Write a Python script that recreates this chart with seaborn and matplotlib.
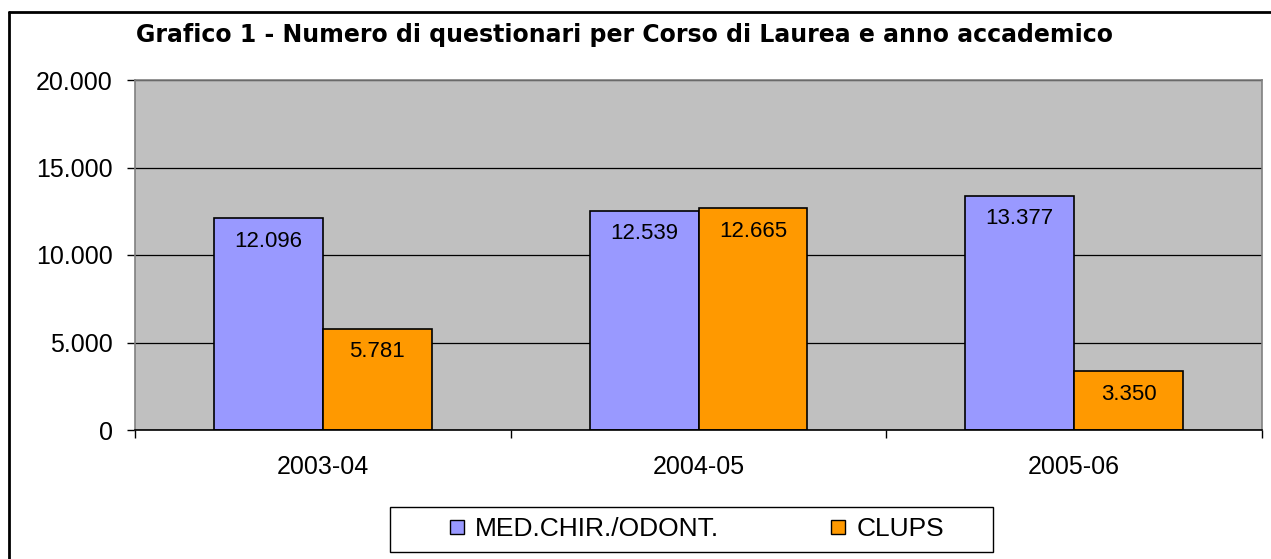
import matplotlib
matplotlib.use("Agg")
import matplotlib.pyplot as plt
from matplotlib.lines import Line2D
from matplotlib.patches import Rectangle
import seaborn as sns
import pandas as pd

years = ["2003-04", "2004-05", "2005-06"]
series = ["MED.CHIR./ODONT.", "CLUPS"]
med_values = [12096, 12539, 13377]
clups_values = [5781, 12665, 3350]
colors = ["#9999FF", "#FF9900"]
title = "Grafico 1 - Numero di questionari per Corso di Laurea e anno accademico"

def fmt(v):
    return f"{v:,}".replace(",", ".")

df = pd.DataFrame({
    "year": years * 2,
    "series": [series[0]] * 3 + [series[1]] * 3,
    "value": med_values + clups_values,
})

sns.set_style("white")
plt.rcParams["font.family"] = ["Liberation Sans", "DejaVu Sans"]
plt.rcParams["text.color"] = "black"
plt.rcParams["xtick.color"] = "black"
plt.rcParams["ytick.color"] = "black"
plt.rcParams["xtick.labelcolor"] = "black"
plt.rcParams["ytick.labelcolor"] = "black"

fig = plt.figure(figsize=(12.71, 5.59), dpi=100)
ax = fig.add_axes([135 / 1271, 1 - 430 / 559, (1262 - 135) / 1271, (430 - 80) / 559])
ax.set_facecolor("#C0C0C0")

sns.barplot(data=df, x="year", y="value", hue="series", palette=colors,
            width=0.58, edgecolor="black", linewidth=1.2, saturation=1,
            ax=ax, legend=False, order=years, hue_order=series)

vals = [med_values, clups_values]
for cont, vs in zip(ax.containers, vals):
    for p, v in zip(cont.patches, vs):
        ax.annotate(fmt(v), xy=(p.get_x() + p.get_width() / 2, p.get_height()),
                    xytext=(0, -16.5), textcoords="offset points",
                    ha="center", va="center", fontsize=16, color="black")

ax.set_ylim(0, 20000)
ax.set_xlim(-0.5, 2.5)
yt = [0, 5000, 10000, 15000, 20000]
ax.set_yticks(yt)
ax.set_yticklabels([fmt(v) for v in yt], fontsize=18, color="black")
ax.tick_params(axis="y", direction="out", length=6, width=1, color="black", pad=10, left=True)
ax.set_xticks(range(len(years)))
ax.set_xticklabels(years, fontsize=18, color="black")
ax.tick_params(axis="x", which="major", length=0, pad=18)
ax.set_xticks([-0.5, 0.5, 1.5, 2.5], minor=True)
ax.tick_params(axis="x", which="minor", direction="out", length=6, width=1, color="black", bottom=True)
ax.set_xlabel("")
ax.set_ylabel("")
ax.yaxis.grid(True, color="black", linewidth=0.9)
ax.set_axisbelow(True)
for s in ["top", "right", "left"]:
    ax.spines[s].set_color("#808080")
    ax.spines[s].set_linewidth(1.2)
ax.spines["bottom"].set_color("black")
ax.spines["bottom"].set_linewidth(1.2)

ttl = fig.text(624 / 1271, 1 - 35 / 559, title, ha="center", va="center",
               fontsize=15, fontweight="bold", family=["DejaVu Sans"], color="black")
fig.canvas.draw()
w = ttl.get_window_extent().width
ttl.set_fontsize(15 * 978 / w)

handles = [Line2D([], [], marker="s", linestyle="none", markersize=10,
                  markerfacecolor=c, markeredgecolor="black", markeredgewidth=1)
           for c in colors]
fig.legend(handles, series, loc="center", bbox_to_anchor=(695 / 1271, 1 - 529.5 / 559),
           ncol=2, frameon=False, fontsize=19, handletextpad=0.3,
           columnspacing=4.1, handlelength=0.8, labelcolor="black")
fig.add_artist(Rectangle((390 / 1271, 1 - 552 / 559), 603 / 1271, 45 / 559,
                         transform=fig.transFigure, fill=False,
                         edgecolor="black", linewidth=1))

fig.add_artist(Line2D([9 / 1271, 9 / 1271], [0, 1 - 12 / 559],
                      transform=fig.transFigure, color="black", linewidth=2))
fig.add_artist(Line2D([9 / 1271, 1], [1 - 12 / 559, 1 - 12 / 559],
                      transform=fig.transFigure, color="black", linewidth=2))

fig.savefig("out.png", dpi=100)
